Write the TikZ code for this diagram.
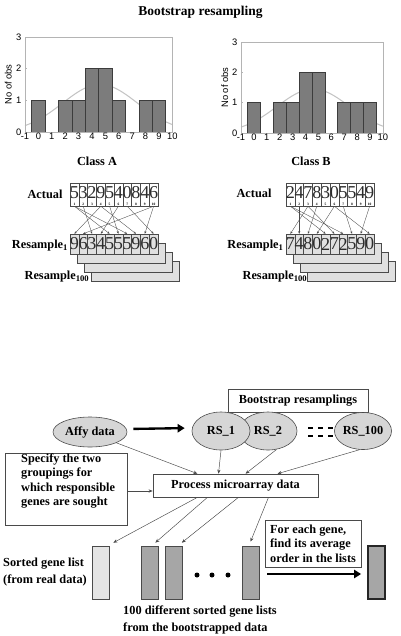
\documentclass[tikz,border=0pt]{standalone}
\usepackage{fontspec}
\setmainfont{Liberation Serif}
\setsansfont{Liberation Sans}
\usepackage{tikz}
\usetikzlibrary{arrows.meta, positioning, shapes.geometric, calc}
\definecolor{bootbar}{HTML}{7C7C7C}
\definecolor{bootedge}{HTML}{3C3C3C}
\definecolor{bootframe}{HTML}{B4B4B4}
\definecolor{bootcurve}{HTML}{C4C4C4}
\definecolor{bootcell}{HTML}{E0E0E0}
\definecolor{bootoval}{HTML}{D6D6D6}
\definecolor{bootlight}{HTML}{E4E4E4}
\definecolor{bootdark}{HTML}{A6A6A6}
\definecolor{bootline}{HTML}{4A4A4A}
\definecolor{bootdigit}{HTML}{2C2C2C}

\tikzset{
  px/.style={x=0.03cm, y=-0.03cm},
  lbl/.style={font=\bfseries\fontsize{10.5}{12.5}\selectfont, inner sep=0pt},
  axlbl/.style={font=\sffamily\fontsize{8}{8}\selectfont, inner sep=0.5pt},
  actcell/.style={draw=bootline, line width=0.4pt, fill=white, minimum width=0.264cm, minimum height=0.69cm, inner sep=0pt},
  rescell/.style={draw=bootline, line width=0.4pt, fill=bootcell, minimum width=0.264cm, minimum height=0.6cm, inner sep=0pt},
  digit/.style={font=\fontsize{15.5}{15.5}\selectfont, text=bootdigit, inner sep=0pt},
  idx/.style={font=\bfseries\fontsize{3}{3}\selectfont, inner sep=0.4pt},
  cellarrow/.style={draw=bootline, line width=0.3pt, -{Stealth[length=2.2pt, width=1.8pt]}},
  oval/.style={ellipse, draw=bootline, fill=bootoval, line width=0.5pt, inner sep=0pt, font=\bfseries\fontsize{10.5}{12.5}\selectfont},
  thinarrow/.style={draw=bootline, line width=0.4pt, -{Stealth[length=3.5pt, width=2.8pt]}},
  bigarrow/.style={draw=black, line width=2pt, -{Triangle[length=6pt, width=7pt]}},
  dashseg/.style={line width=1.3pt},
  glist/.style={draw=bootline, line width=0.5pt, minimum width=0.51cm, minimum height=1.59cm, inner sep=0pt},
  dotf/.style={circle, fill=black, minimum size=0.15cm, inner sep=0pt}
}

\begin{document}
\begin{tikzpicture}[px]
\useasboundingbox (0,0) rectangle (401,636);

% title
\node[lbl, font=\bfseries\fontsize{11.5}{13}\selectfont] (title) at (200.5,12) {Bootstrap resampling};

% histogram class A
\begin{scope}[shift={(1.152cm,-3.96cm)}, x=0.402cm, y=0.951cm]
  \draw[bootcurve, line width=0.9pt] plot[domain=-1:10, samples=60, smooth] (\x,{1.5*exp(-((\x-4.6)^2)/15.68)});
  \foreach \k/\n in {0/1,2/1,3/1,4/2,5/2,6/1,8/1,9/1}
    \draw[fill=bootbar, draw=bootedge, line width=0.5pt] (\k-0.5,0) rectangle (\k+0.5,\n);
  \draw[bootframe, line width=0.5pt] (-1,0) rectangle (10,3);
  \foreach \t in {0,...,3} {
    \draw[bootframe] (-1,\t) -- ++(0.15,0);
    \node[axlbl, anchor=east, xshift=-2.5pt] (ya\t) at (-1,\t) {\t};
  }
  \foreach \t [count=\i] in {-1,...,10}
    \node[axlbl, anchor=north] (xa\i) at (\t,0) {\t};
  \node[axlbl, rotate=90] (obsa) at (-2.25,1.5) {No of obs};
\end{scope}

% histogram class B
\begin{scope}[shift={(7.617cm,-3.99cm)}, x=0.387cm, y=0.909cm]
  \draw[bootcurve, line width=0.9pt] plot[domain=-1:10, samples=60, smooth] (\x,{1.45*exp(-((\x-4.6)^2)/15.68)});
  \foreach \k/\n in {0/1,2/1,3/1,4/2,5/2,7/1,8/1,9/1}
    \draw[fill=bootbar, draw=bootedge, line width=0.5pt] (\k-0.5,0) rectangle (\k+0.5,\n);
  \draw[bootframe, line width=0.5pt] (-1,0) rectangle (10,3);
  \foreach \t in {0,...,3} {
    \draw[bootframe] (-1,\t) -- ++(0.15,0);
    \node[axlbl, anchor=east, xshift=-2.5pt] (yb\t) at (-1,\t) {\t};
  }
  \foreach \t [count=\i] in {-1,...,10}
    \node[axlbl, anchor=north] (xb\i) at (\t,0) {\t};
  \node[axlbl, rotate=90] (obsb) at (-2.25,1.5) {No of obs};
\end{scope}

\node[lbl] (classa) at (97,161) {Class A};
\node[lbl] (classb) at (311,161) {Class B};

% class A: actual and resamples
\node[lbl] (acta) at (45,194) {Actual};
\node[lbl] (resa) at (40,246) {Resample\textsubscript{1}};
\foreach \s in {3,2,1}
  \draw[fill=bootcell, draw=bootline, line width=0.4pt] ({70+7*\s},{234+9*\s}) rectangle ++(88,20);
\node[lbl] (resahund) at (57,277) {Resample\textsubscript{100}};
\foreach \v [count=\i] in {5,3,2,9,5,4,0,8,4,6} {
  \node[actcell] (a\i) at ({70+8.8*(\i-0.5)},194.5) {};
  \node[digit] (ad\i) at ($(a\i)+(0,-2)$) {\v};
  \node[idx, anchor=south] (ai\i) at (a\i.south) {\i};
}
\foreach \v [count=\i] in {9,6,3,4,5,5,5,9,6,0} {
  \node[rescell] (r\i) at ({70+8.8*(\i-0.5)},244) {};
  \node[digit] (rd\i) at (r\i) {\v};
}
\foreach \s/\t in {4/1,10/2,2/3,6/4,1/5,5/6,1/7,4/8,10/9,7/10}
  \draw[cellarrow] (a\s.south) -- (r\t.north);

% class B: actual and resamples
\node[lbl] (actb) at (254,193) {Actual};
\node[lbl] (resb) at (255.5,246) {Resample\textsubscript{1}};
\foreach \s in {3,2,1}
  \draw[fill=bootcell, draw=bootline, line width=0.4pt] ({286+7*\s},{234+9*\s}) rectangle ++(88,20);
\node[lbl] (resbhund) at (275,277) {Resample\textsubscript{100}};
\foreach \v [count=\i] in {2,4,7,8,3,0,5,5,4,9} {
  \node[actcell] (b\i) at ({286+8.8*(\i-0.5)},194.5) {};
  \node[digit] (bd\i) at ($(b\i)+(0,-2)$) {\v};
  \node[idx, anchor=south] (bi\i) at (b\i.south) {\i};
}
\foreach \v [count=\i] in {7,4,8,0,2,7,2,5,9,0} {
  \node[rescell] (q\i) at ({286+8.8*(\i-0.5)},244) {};
  \node[digit] (qd\i) at (q\i) {\v};
}
\foreach \s/\t in {3/1,2/2,4/3,6/4,1/5,3/6,1/7,7/8,10/9,6/10}
  \draw[cellarrow] (b\s.south) -- (q\t.north);

% pipeline
\node[lbl, draw=bootline, line width=0.5pt, minimum width=4.2cm, minimum height=0.69cm] (bsbox) at (298,400.5) {Bootstrap resamplings};
\node[oval, minimum width=2.22cm, minimum height=0.9cm] (affy) at (90,432) {Affy data};
\node[oval, minimum width=1.74cm, minimum height=1.14cm] (rs2) at (268,431) {RS\_2};
\node[oval, minimum width=1.74cm, minimum height=1.14cm] (rs1) at (221,431) {RS\_1};
\node[oval, minimum width=1.59cm, minimum height=1.11cm] (rs100) at (363,431) {RS\_100};
\draw[bigarrow, shorten <=0.18cm, shorten >=0.21cm] ($(affy.east)+(0,-3)$) -- ($(rs1.west)+(0,-3)$);
\foreach \p in {308,318,328} {
  \draw[dashseg] (\p,428) -- ++(5,0);
  \draw[dashseg] (\p,436) -- ++(5,0);
}

\node[lbl, draw=bootline, line width=0.5pt, minimum width=4.95cm, minimum height=0.69cm] (proc) at (235.5,485.5) {Process microarray data};
\node[draw=bootline, line width=0.5pt, minimum width=3.66cm, minimum height=2.16cm] (spec) at (66,489) {};
\node[lbl, align=left, anchor=west] (spectxt) at (21,481) {Specify the two\\groupings for\\which responsible\\genes are sought};
\coordinate (specarr) at (127,491);
\draw[thinarrow] (specarr) -- (proc.west |- specarr);

\draw[thinarrow] (affy.south east) -- ($(proc.north)+(-38,0)$);
\draw[thinarrow] (rs1.south) -- ($(proc.north)+(-17,0)$);
\draw[thinarrow] (rs2.-65) -- ($(proc.north)+(10,0)$);
\draw[thinarrow] (rs100.-100) -- ($(proc.north)+(42,0)$);

% gene lists
\node[glist, fill=bootlight] (l0) at (100.5,572.5) {};
\node[glist, fill=bootdark] (l1) at (149.5,572.5) {};
\node[glist, fill=bootdark] (l2) at (174,572.5) {};
\node[glist, fill=bootdark] (l3) at (250.5,572.5) {};
\node[glist, fill=bootdark, draw=black!85, line width=1.5pt] (lfin) at (376.5,572.5) {};
\draw[thinarrow] ($(proc.south)+(-38,0)$) -- ($(l0.north east)+(4,-3)$);
\draw[thinarrow] ($(proc.south)+(-28,0)$) -- ($(l1.north east)+(-3,-3)$);
\draw[thinarrow] ($(proc.south)+(3,0)$) -- ($(l2.north east)+(-1,-3)$);
\draw[thinarrow] ($(proc.south)+(33,0)$) -- ($(l3.north)+(0,-4)$);
\foreach \p [count=\i] in {197,212,228}
  \node[dotf] (dot\i) at (\p,575) {};
\draw[bigarrow, shorten <=0.24cm, shorten >=0.18cm] ($(l3.east)+(0,1.5)$) -- ($(lfin.west)+(0,1.5)$);

\node[lbl, draw=bootline, line width=0.5pt, align=left, minimum width=2.88cm, minimum height=1.41cm] (each) at (313,543.5) {For each gene,\\find its average\\order in the lists};
\node[lbl, align=left, anchor=west, font=\bfseries\fontsize{10.5}{14.5}\selectfont] (real) at (3,572) {Sorted gene list\\(from real data)};
\node[lbl, align=left, anchor=west, font=\bfseries\fontsize{10.5}{14}\selectfont] (boot) at (123,620) {100 different sorted gene lists\\from the bootstrapped data};
\end{tikzpicture}
\end{document}
